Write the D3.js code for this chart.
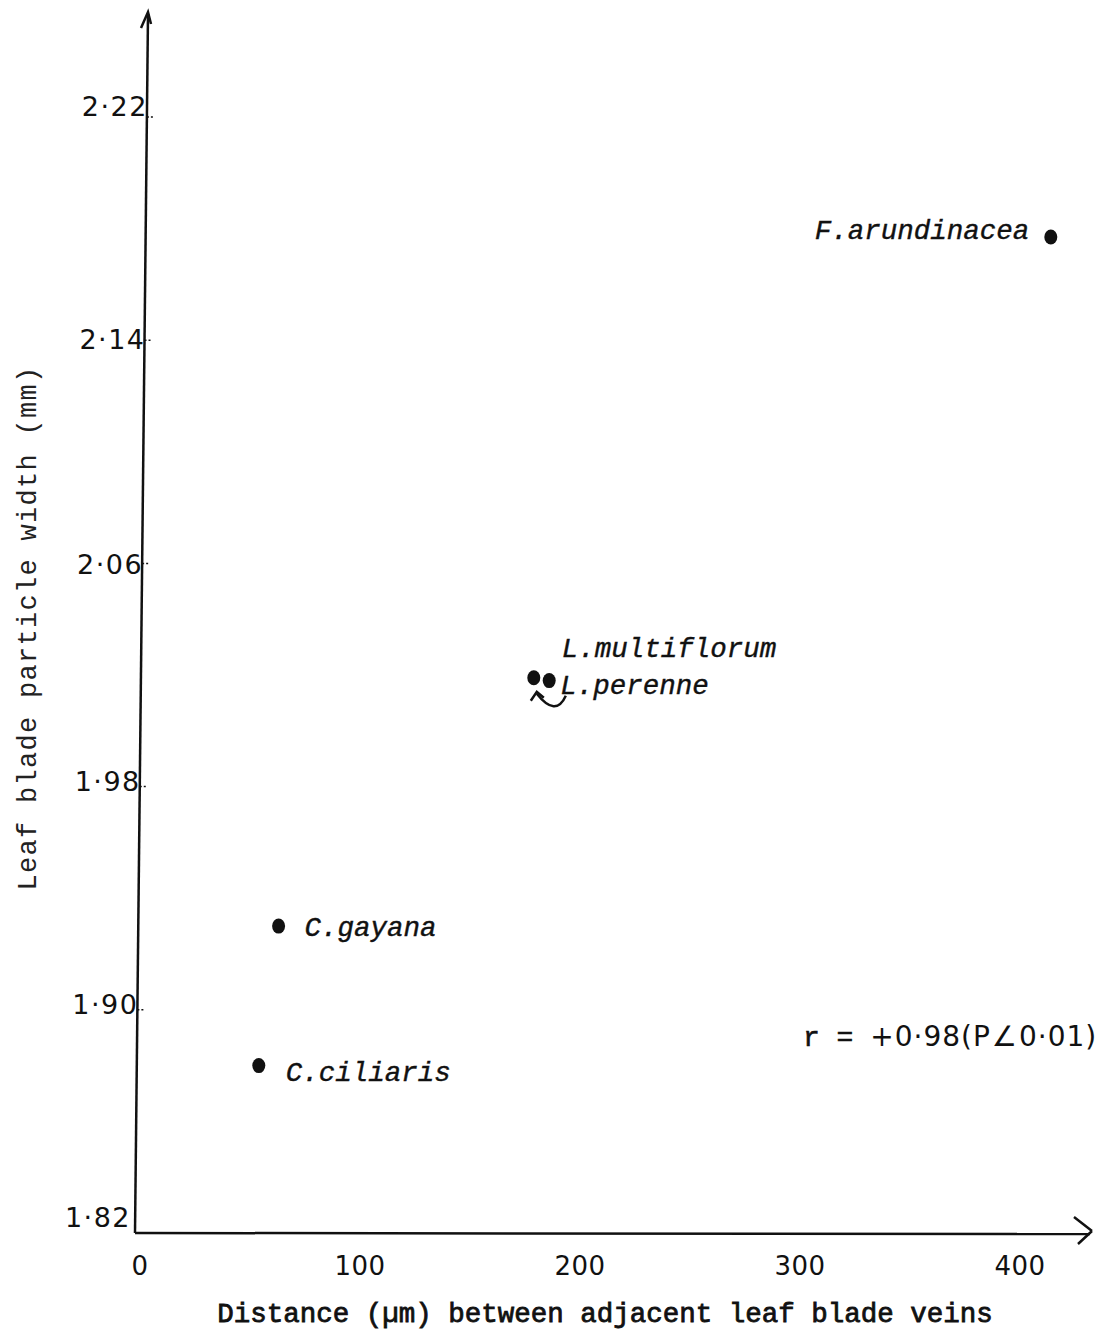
<!DOCTYPE html>
<html><head><meta charset="utf-8">
<script src="https://cdn.jsdelivr.net/npm/d3@7"></script>
<style>
html,body{margin:0;padding:0;background:#fff;}
svg{display:block;}
</style></head>
<body>
<svg id="chart" width="1107" height="1335"></svg>
<script>
const species = ["F.arundinacea","L.multiflorum","L.perenne","C.gayana","C.ciliaris"];
const veinDistance = [414, 179, 186, 63, 54];
const particleWidth = [2.177, 2.019, 2.018, 1.930, 1.880];
const xTicks = [0, 100, 200, 300, 400];
const yTicks = [1.82, 1.90, 1.98, 2.06, 2.14, 2.22];
const yTickLabels = ["1·82","1·90","1·98","2·06","2·14","2·22"];
const xTitle = "Distance (\u00b5m) between adjacent leaf blade veins";
const yTitle = "Leaf blade particle width (mm)";
const statText = ["r = ", "+0·98(P", "\u2220", "0·01)"];

const svg = d3.select("#chart");
const x = d3.scaleLinear().domain([0, 400]).range([140, 1020]);
const y = d3.scaleLinear().domain([1.82, 2.22]).range([1233, 117]);
const ink = "#111";
const mono = "'Liberation Mono','DejaVu Sans Mono',monospace";
const sans = "'DejaVu Sans',sans-serif";

// slightly slanted hand-drawn y axis
const yBot = y(1.82), yTop = 14;
const axisX = yy => 135 + (yBot - yy) / (yBot - yTop) * 13;

svg.append("line").attr("x1", axisX(yBot)).attr("y1", yBot).attr("x2", 1090).attr("y2", yBot + 1)
  .attr("stroke", ink).attr("stroke-width", 2.5);
svg.append("line").attr("x1", axisX(yBot)).attr("y1", yBot).attr("x2", axisX(yTop)).attr("y2", yTop)
  .attr("stroke", ink).attr("stroke-width", 2.5);
// arrowheads
svg.append("path").attr("d", `M1074,${yBot-16} L1092,${yBot-2} M1078,${yBot+11} L1092,${yBot-2}`)
  .attr("stroke", ink).attr("stroke-width", 2.5).attr("fill", "none");
svg.append("path").attr("d", `M${axisX(yTop)-7},28 L${axisX(yTop)},12 L${axisX(yTop)+3},24`)
  .attr("stroke", ink).attr("stroke-width", 2.5).attr("fill", "none");

// y tick labels + tiny ticks
const yOff = {"1.82": -6, "1.9": 4, "1.98": 4, "2.06": 11, "2.14": 9, "2.22": -1};
const xOff = {"1.82": -5};
const yg = svg.append("g");
yTicks.forEach((t, i) => {
  const yy = y(t);
  yg.append("text").attr("x", axisX(yy) + 1 + (xOff[String(t)] || 0)).attr("y", yy + (yOff[String(t)] || 0))
    .attr("text-anchor", "end").attr("font-family", sans).attr("font-size", 27)
    .attr("letter-spacing", 1.5).attr("fill", ink).text(yTickLabels[i]);
  if (i > 0) yg.append("line").attr("x1", axisX(yy)).attr("x2", axisX(yy) + 7).attr("y1", yy).attr("y2", yy)
    .attr("stroke", ink).attr("stroke-width", 1.5).attr("stroke-dasharray", "2,2");
});
// x tick labels
svg.append("g").selectAll("text").data(xTicks).join("text")
  .attr("x", d => x(d)).attr("y", 1275).attr("text-anchor", "middle")
  .attr("font-family", sans).attr("font-size", 26).attr("letter-spacing", 0.5).attr("fill", ink).text(d => d);

// axis titles
svg.append("text").attr("x", 605).attr("y", 1322).attr("text-anchor", "middle")
  .attr("font-family", mono).attr("font-size", 27.5)
  .attr("fill", ink).attr("stroke", ink).attr("stroke-width", 0.8).text(xTitle);
svg.append("text").attr("transform", "translate(36,628) rotate(-90)").attr("text-anchor", "middle")
  .attr("font-family", mono).attr("font-size", 27).attr("letter-spacing", 1.3)
  .attr("fill", "#222").text(yTitle);

// points
const pts = species.map((s, i) => ({s, vx: veinDistance[i], vy: particleWidth[i]}));
svg.append("g").selectAll("ellipse").data(pts).join("ellipse")
  .attr("cx", d => x(d.vx)).attr("cy", d => y(d.vy))
  .attr("rx", 6.5).attr("ry", 7.5).attr("fill", ink);

// labels
const lab = [
  {i: 0, dx: -236, dy: 2},
  {i: 1, dx: 28, dy: -21},
  {i: 2, dx: 11, dy: 13},
  {i: 3, dx: 26, dy: 10},
  {i: 4, dx: 27, dy: 15}
];
svg.append("g").selectAll("text").data(lab).join("text")
  .attr("x", d => x(veinDistance[d.i]) + d.dx).attr("y", d => y(particleWidth[d.i]) + d.dy)
  .attr("font-family", mono).attr("font-style", "italic").attr("font-size", 27.5)
  .attr("fill", ink).attr("stroke", ink).attr("stroke-width", 0.4).text(d => species[d.i]);

// curved arrow linking the two Lolium points
const lx = x(veinDistance[1]), ly = y(particleWidth[1]);
svg.append("path")
  .attr("d", `M${lx+32},${ly+18} Q${lx+22},${ly+40} ${lx+3},${ly+16}`)
  .attr("stroke", ink).attr("stroke-width", 2.5).attr("fill", "none");
svg.append("path")
  .attr("d", `M${lx-3},${ly+23} L${lx+3},${ly+14} L${lx+10},${ly+20}`)
  .attr("stroke", ink).attr("stroke-width", 2.5).attr("fill", "none");

// statistic
const st = svg.append("text").attr("x", 803).attr("y", 1046).attr("fill", ink).attr("font-size", 28);
st.append("tspan").attr("font-family", mono).attr("stroke", ink).attr("stroke-width", 0.6).text(statText[0]);
st.append("tspan").attr("font-family", sans).attr("letter-spacing", 1).text(statText[1]);
st.append("tspan").attr("font-family", sans).attr("dx", 1).text(statText[2]);
st.append("tspan").attr("font-family", sans).attr("dx", 2).attr("letter-spacing", 1).text(statText[3]);
</script>
</body></html>
